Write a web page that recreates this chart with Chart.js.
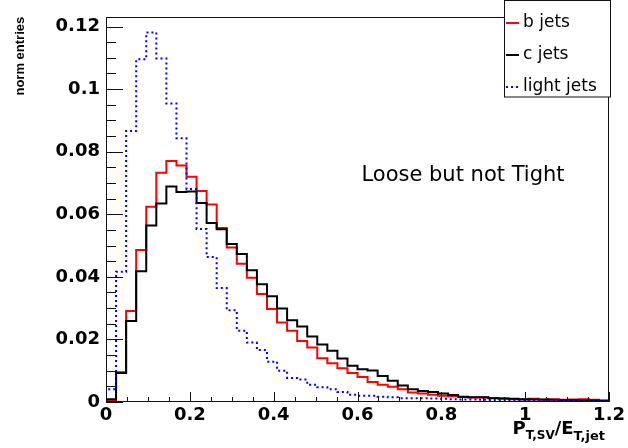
<!DOCTYPE html>
<html lang="en">
<head>
    <meta charset="UTF-8">
    <title>Secondary vertex pT fraction</title>
    <style>
        body { margin: 0; background: #fff; }
        #wrap { width: 628px; height: 448px; }
    </style>
</head>
<body>
<div id="wrap"><canvas id="myChart" width="628" height="448"></canvas></div>

<script src="https://cdn.jsdelivr.net/npm/chart.js@4.4.1/dist/chart.umd.min.js"></script>
<script>
// bin edges of the histograms (50 bins between 0 and 1.2)
var binEdges = [0, 0.024, 0.048, 0.072, 0.096, 0.12, 0.144, 0.168, 0.192, 0.216,
    0.24, 0.264, 0.288, 0.312, 0.336, 0.36, 0.384, 0.408, 0.432, 0.456,
    0.48, 0.504, 0.528, 0.552, 0.576, 0.6, 0.624, 0.648, 0.672, 0.696,
    0.72, 0.744, 0.768, 0.792, 0.816, 0.84, 0.864, 0.888, 0.912, 0.936,
    0.96, 0.984, 1.008, 1.032, 1.056, 1.08, 1.104, 1.128, 1.152, 1.176, 1.2];

var seriesNames = ['b jets', 'c jets', 'light jets'];

var bJets = [0.0005, 0.0095, 0.0291, 0.0486, 0.0624, 0.0733, 0.0770, 0.0756, 0.0720, 0.0674,
    0.0631, 0.0556, 0.0494, 0.0442, 0.0397, 0.0345, 0.0297, 0.0254, 0.0228, 0.0195,
    0.0174, 0.0140, 0.0124, 0.0108, 0.0093, 0.0080, 0.0064, 0.0055, 0.0049, 0.0041,
    0.0030, 0.0027, 0.0023, 0.0020, 0.0018, 0.0016, 0.0014, 0.0014, 0.0013, 0.0011,
    0.0009, 0.0008, 0.0010, 0.0007, 0.0009, 0.0007, 0.0008, 0.0009, 0.0007, 0.0005];

var cJets = [0.0009, 0.0093, 0.0259, 0.0418, 0.0564, 0.0634, 0.0689, 0.0671, 0.0673, 0.0636,
    0.0572, 0.0552, 0.0505, 0.0473, 0.0421, 0.0376, 0.0338, 0.0299, 0.0261, 0.0241,
    0.0209, 0.0184, 0.0164, 0.0139, 0.0116, 0.0105, 0.0101, 0.0083, 0.0068, 0.0053,
    0.0041, 0.0035, 0.0032, 0.0027, 0.0022, 0.0017, 0.0015, 0.0015, 0.0012, 0.0011,
    0.0010, 0.0009, 0.0008, 0.0008, 0.0007, 0.0006, 0.0006, 0.0005, 0.0005, 0.0004];

var lightJets = [0.0041, 0.0416, 0.0866, 0.1095, 0.1181, 0.1098, 0.0954, 0.0843, 0.0681, 0.0553,
    0.0463, 0.0364, 0.0293, 0.0228, 0.0190, 0.0166, 0.0129, 0.0100, 0.0077, 0.0072,
    0.0055, 0.0047, 0.0041, 0.0032, 0.0023, 0.0020, 0.0020, 0.0017, 0.0015, 0.0012,
    0.0012, 0.0012, 0.0011, 0.0010, 0.0009, 0.0008, 0.0008, 0.0007, 0.0006, 0.0006,
    0.0005, 0.0005, 0.0004, 0.0004, 0.0004, 0.0003, 0.0003, 0.0003, 0.0002, 0.0002];

var xTicks = [0, 0.2, 0.4, 0.6, 0.8, 1, 1.2];
var yTicks = [0, 0.02, 0.04, 0.06, 0.08, 0.1, 0.12];

var colors = ['#ff0000', '#000000', '#0000ff'];

// turn bin contents into points for a stepped line
function histPoints(vals) {
    var pts = [{ x: binEdges[0], y: 0 }];
    for (var i = 0; i < vals.length; i++) {
        pts.push({ x: binEdges[i], y: vals[i] });
    }
    pts.push({ x: binEdges[vals.length], y: vals[vals.length - 1] });
    return pts;
}

var tickFont = { family: 'DejaVu Sans', weight: 'bold', size: 18 };

// frame, inward ticks, legend box and labels like the ROOT canvas
var rootFrame = {
    id: 'rootFrame',
    afterDatasetsDraw: function (chart) {
        var ctx = chart.ctx, a = chart.chartArea;
        var xs = chart.scales.x, ys = chart.scales.y;
        ctx.save();
        ctx.strokeStyle = '#111';
        ctx.lineWidth = 1;
        ctx.strokeRect(Math.round(a.left) + 0.5, Math.round(a.top) + 0.5,
            Math.round(a.right - a.left) - 1, Math.round(a.bottom - a.top) - 1);

        ctx.beginPath();
        for (var i = 0; i <= 24; i++) {
            var px = Math.round(xs.getPixelForValue(i * 0.05)) + 0.5;
            var len = i % 4 === 0 ? 10 : 5;
            ctx.moveTo(px, a.bottom);
            ctx.lineTo(px, a.bottom - len);
        }
        for (var j = 0; j <= 24; j++) {
            var py = Math.round(ys.getPixelForValue(j * 0.005)) + 0.5;
            var ylen = j % 4 === 0 ? 17 : 10;
            ctx.moveTo(a.left, py);
            ctx.lineTo(a.left + ylen, py);
        }
        ctx.stroke();
        ctx.restore();
    },
    afterDraw: function (chart) {
        var ctx = chart.ctx;
        ctx.save();

        // legend
        ctx.fillStyle = '#fff';
        ctx.fillRect(504, 0, 107, 97);
        ctx.strokeStyle = '#111';
        ctx.lineWidth = 1;
        ctx.strokeRect(504.5, 0.5, 106, 96.5);
        var rows = [23, 55, 87];
        ctx.font = '17px "DejaVu Sans"';
        ctx.textBaseline = 'middle';
        ctx.textAlign = 'left';
        chart.data.datasets.forEach(function (ds, k) {
            ctx.beginPath();
            ctx.strokeStyle = ds.borderColor;
            ctx.lineWidth = 2;
            ctx.setLineDash(ds.borderDash || []);
            ctx.moveTo(506, rows[k]);
            ctx.lineTo(519, rows[k]);
            ctx.stroke();
            ctx.setLineDash([]);
            ctx.fillStyle = '#000';
            ctx.fillText(ds.label, 523, rows[k]);
        });

        // selection label
        ctx.font = '21px "DejaVu Sans"';
        ctx.textAlign = 'center';
        ctx.fillText('Loose but not Tight', 463, 176);

        // x axis title with subscripts, right aligned at the axis end
        var parts = [
            ['P', 'bold 18px "DejaVu Sans"', 0],
            ['T,SV', 'bold 12px "DejaVu Sans"', 5],
            ['/E', 'bold 18px "DejaVu Sans"', 0],
            ['T,jet', 'bold 13px "DejaVu Sans"', 6]
        ];
        var total = 0;
        parts.forEach(function (p) { ctx.font = p[1]; total += ctx.measureText(p[0]).width; });
        var x0 = 605 - total;
        ctx.textAlign = 'left';
        ctx.textBaseline = 'alphabetic';
        parts.forEach(function (p) {
            ctx.font = p[1];
            ctx.fillText(p[0], x0, 434 + p[2]);
            x0 += ctx.measureText(p[0]).width;
        });
        ctx.restore();
    }
};

var allSeries = [bJets, cJets, lightJets];
var dashes = [[], [], [2, 3]];
var drawOrder = [2, 1, 0];

var dataSource = {
    datasets: allSeries.map(function (vals, k) {
        return {
            label: seriesNames[k],
            data: histPoints(vals),
            borderColor: colors[k],
            borderWidth: 2,
            borderDash: dashes[k],
            stepped: true,
            pointRadius: 0,
            fill: false,
            order: drawOrder[k]
        };
    })
};

var ctx = document.getElementById('myChart').getContext('2d');
var histChart = new Chart(ctx, {
    type: 'line',
    data: dataSource,
    options: {
        responsive: false,
        animation: false,
        devicePixelRatio: 1,
        layout: { padding: { left: 0, right: 17, top: 7, bottom: 0 } },
        plugins: { legend: { display: false }, tooltip: { enabled: false } },
        scales: {
            x: {
                type: 'linear',
                min: 0,
                max: 1.2,
                grid: { display: false, drawTicks: false },
                border: { display: false },
                afterBuildTicks: function (scale) {
                    scale.ticks = xTicks.map(function (v) { return { value: v }; });
                },
                afterFit: function (scale) { scale.height = 46; },
                ticks: {
                    font: tickFont,
                    color: '#000',
                    padding: 3,
                    maxRotation: 0,
                    autoSkip: false,
                    callback: function (v) { return String(Math.round(v * 1000) / 1000); }
                }
            },
            y: {
                type: 'linear',
                min: 0,
                max: 0.1231,
                grid: { display: false, drawTicks: false },
                border: { display: false },
                afterBuildTicks: function (scale) {
                    scale.ticks = yTicks.map(function (v) { return { value: v }; });
                },
                afterFit: function (scale) { scale.width = 106; },
                title: {
                    display: true,
                    text: 'norm entries',
                    align: 'end',
                    color: '#000',
                    font: { family: 'Liberation Sans', weight: 'bold', size: 13 },
                    padding: { top: 13, bottom: 0 }
                },
                ticks: {
                    font: tickFont,
                    color: '#000',
                    padding: 6,
                    autoSkip: false,
                    callback: function (v) { return String(Math.round(v * 1000) / 1000); }
                }
            }
        }
    },
    plugins: [rootFrame]
});
</script>
</body>
</html>
